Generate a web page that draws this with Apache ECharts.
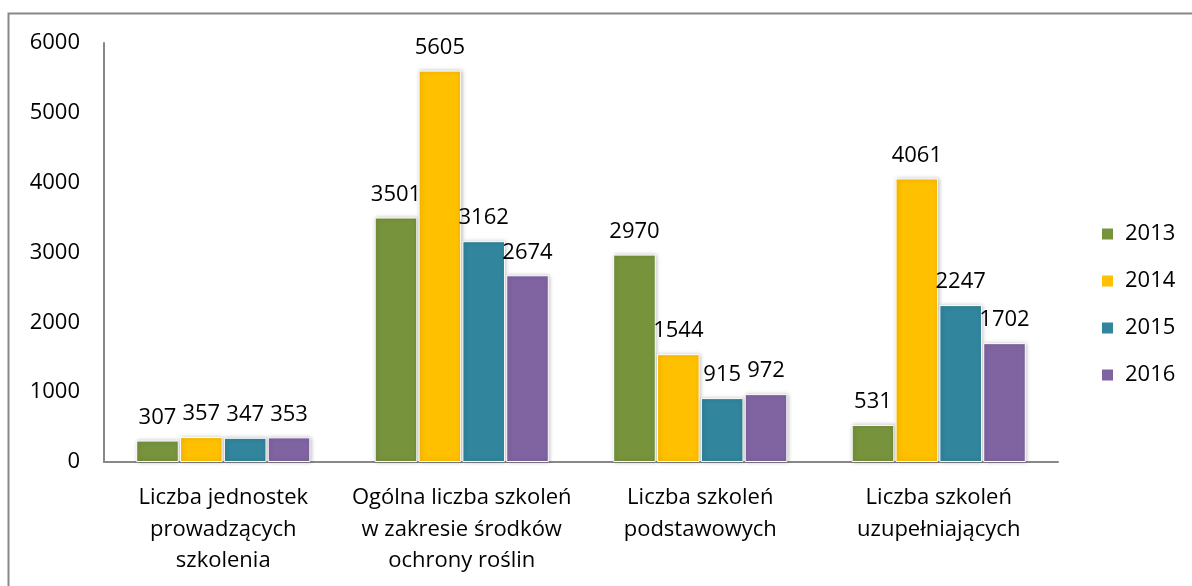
<!DOCTYPE html>
<html>
<head>
<meta charset="utf-8">
<script src="https://cdn.jsdelivr.net/npm/echarts@6/dist/echarts.min.js"></script>
<style>
	html, body { margin: 0; padding: 0; background: #fff; }
	#chart-area { width: 1192px; height: 586px; }
</style>
</head>
<body>
<div id="chart-area"></div>
<script>
const categories = [
	'Liczba jednostek\nprowadzących\nszkolenia',
	'Ogólna liczba szkoleń\nw zakresie środków\nochrony roślin',
	'Liczba szkoleń\npodstawowych',
	'Liczba szkoleń\nuzupełniających'
];
const years = ['2013', '2014', '2015', '2016'];
const values2013 = [307, 3501, 2970, 531];
const values2014 = [357, 5605, 1544, 4061];
const values2015 = [347, 3162, 915, 2247];
const values2016 = [353, 2674, 972, 1702];
const colors = ['#77933C', '#FFC000', '#31859C', '#8064A2'];

let chartDom = document.getElementById('chart-area');
let myChart = echarts.init(chartDom);
const font = '"Open Sans", sans-serif';
const allValues = [values2013, values2014, values2015, values2016];

let option = {
	animation: false,
	textStyle: { fontFamily: font },
	graphic: [
		{
			type: 'rect',
			shape: { x: 8.5, y: 13.5, width: 1200, height: 600 },
			style: { fill: 'none', stroke: '#888', lineWidth: 2 },
			silent: true
		}
	],
	grid: { left: 104, right: 134, top: 43, bottom: 124 },
	legend: {
		data: years,
		orient: 'vertical',
		left: 1095,
		top: 218,
		itemWidth: 13,
		itemHeight: 13,
		itemGap: 25,
		icon: 'rect',
		textStyle: { fontSize: 22, color: '#000', fontFamily: font, padding: [0, 0, 0, 6] }
	},
	xAxis: {
		type: 'category',
		data: categories,
		axisLine: { lineStyle: { color: '#888', width: 2 } },
		axisTick: { show: false },
		axisLabel: { fontSize: 22, color: '#000', lineHeight: 31.5, margin: 20, interval: 0 }
	},
	yAxis: {
		type: 'value',
		min: 0,
		max: 6000,
		interval: 1000,
		splitLine: { show: false },
		axisLine: { show: true, lineStyle: { color: '#888', width: 2 } },
		axisTick: { show: false },
		axisLabel: { fontSize: 22, color: '#000', margin: 24, formatter: (v) => String(v) }
	},
	series: years.map((y, i) => ({
		name: y,
		type: 'bar',
		data: allValues[i],
		barGap: '3%',
		barCategoryGap: '27%',
		itemStyle: {
			color: colors[i],
			borderColor: '#fff',
			borderWidth: 1,
			shadowColor: 'rgba(0,0,0,0.25)',
			shadowBlur: 4,
			shadowOffsetX: 1
		},
		label: {
			show: true,
			position: 'top',
			distance: 12,
			fontSize: 22,
			color: '#000',
			fontFamily: font
		}
	}))
};

option && myChart.setOption(option);
</script>
</body>
</html>
